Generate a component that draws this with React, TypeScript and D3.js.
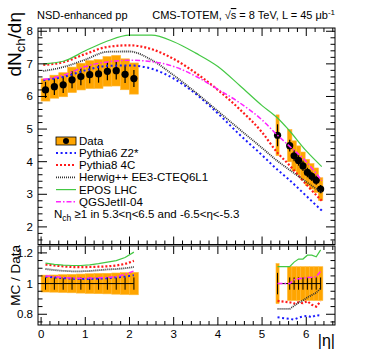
import React from 'react';
import * as d3 from 'd3';

// measured points (|eta| bins)
const etaLeft = [0.1, 0.3, 0.5, 0.7, 0.9, 1.1, 1.3, 1.5, 1.7, 1.9, 2.1];
const dataLeft = [6.2, 6.3, 6.36, 6.51, 6.61, 6.67, 6.69, 6.77, 6.79, 6.68, 6.55];
const sysLeft = [0.055, 0.056, 0.058, 0.06, 0.062, 0.064, 0.066, 0.067, 0.069, 0.071, 0.073];
const statLeft = [0.04, 0.04, 0.04, 0.04, 0.04, 0.04, 0.04, 0.04, 0.04, 0.04, 0.04];
const binLeft = [0.2, 0.2, 0.2, 0.2, 0.2, 0.2, 0.2, 0.2, 0.2, 0.2, 0.2];

const etaRight = [5.35, 5.625, 5.725, 5.825, 5.925, 6.025, 6.125, 6.225, 6.325];
const dataRight = [4.81, 4.49, 4.18, 4.04, 3.87, 3.67, 3.55, 3.43, 3.16];
const sysRight = [0.13, 0.11, 0.11, 0.11, 0.11, 0.11, 0.11, 0.11, 0.11];
const statRight = [0.07, 0.04, 0.04, 0.04, 0.04, 0.04, 0.04, 0.04, 0.04];
const binRight = [0.07, 0.1, 0.1, 0.1, 0.1, 0.1, 0.1, 0.1, 0.1];

// MC predictions, main panel
const mcEta = [0.05, 0.5, 1, 1.5, 2, 2.5, 3, 3.5, 4, 4.5, 5, 5.35, 5.6, 6, 6.35];
const mcPythia6 = [6.5, 6.6, 6.8, 6.94, 6.95, 6.85, 6.55, 6.08, 5.48, 4.82, 4.2, 3.75, 3.46, 2.95, 2.5];
const mcPythia8 = [6.97, 7.05, 7.3, 7.52, 7.57, 7.45, 7.15, 6.72, 6.2, 5.6, 4.9, 4.27, 3.92, 3.3, 2.8];
const mcHerwig = [6.78, 6.9, 7.13, 7.37, 7.38, 7.12, 6.65, 6.12, 5.55, 4.98, 4.42, 4.02, 3.77, 3.38, 3.05];
const mcEpos = [7.0, 7.08, 7.4, 7.7, 7.88, 7.88, 7.68, 7.33, 6.92, 6.33, 5.72, 5.34, 4.98, 4.33, 3.85];
const mcQgsjet = [6.52, 6.65, 6.92, 7.06, 7.11, 7.07, 6.92, 6.62, 6.22, 5.8, 5.28, 4.81, 4.5, 4.0, 3.42];

// MC / Data ratios at the measured points
const rPythia6Left = [1.045, 1.04, 1.035, 1.032, 1.03, 1.03, 1.032, 1.035, 1.04, 1.045, 1.055];
const rPythia8Left = [1.124, 1.118, 1.112, 1.108, 1.107, 1.108, 1.11, 1.112, 1.118, 1.128, 1.148];
const rHerwigLeft = [1.095, 1.088, 1.083, 1.08, 1.08, 1.082, 1.087, 1.092, 1.095, 1.1, 1.108];
const rEposLeft = [1.133, 1.125, 1.12, 1.118, 1.118, 1.122, 1.13, 1.14, 1.15, 1.17, 1.205];
const rQgsjetLeft = [1.05, 1.045, 1.04, 1.036, 1.035, 1.036, 1.038, 1.04, 1.045, 1.06, 1.082];

const rPythia6Right = [0.78, 0.77, 0.765, 0.778, 0.785, 0.79, 0.78, 0.795, 0.79];
const rPythia8Right = [0.887, 0.878, 0.87, 0.878, 0.872, 0.885, 0.862, 0.85, 0.885];
const rHerwigRight = [0.835, 0.835, 0.855, 0.875, 0.89, 0.91, 0.925, 0.94, 0.97];
const rEposRight = [1.11, 1.11, 1.14, 1.16, 1.16, 1.185, 1.185, 1.175, 1.22];
const rQgsjetRight = [1.0, 1.0, 1.025, 1.032, 1.036, 1.04, 1.042, 1.045, 1.08];

const models = [
  { name: 'Pythia6 Z2*', color: '#1a1aff', width: 2, dash: '2 2.6', main: mcPythia6, rl: rPythia6Left, rr: rPythia6Right },
  { name: 'Pythia8 4C', color: '#ff1a1a', width: 2.2, dash: '2 2', main: mcPythia8, rl: rPythia8Left, rr: rPythia8Right },
  { name: 'Herwig++ EE3-CTEQ6L1', color: '#333333', width: 1.8, dash: '1 1', main: mcHerwig, rl: rHerwigLeft, rr: rHerwigRight },
  { name: 'EPOS LHC', color: '#44c844', width: 1.2, dash: '', main: mcEpos, rl: rEposLeft, rr: rEposRight },
  { name: 'QGSJetII-04', color: '#ff22ff', width: 1.5, dash: '5 2 1.5 2', main: mcQgsjet, rl: rQgsjetLeft, rr: rQgsjetRight },
];

const font = '"Liberation Sans", Arial, Helvetica, sans-serif';
const ORANGE = '#ffa500';

const L = 38, R = 335;
const mainTop = 28, mainBot = 244.5;
const ratTop = 246, ratBot = 325;

export default function App() {
  const x = d3.scaleLinear().domain([-0.07, 6.65]).range([L, R]);
  const y = d3.scaleLinear().domain([1.46, 8.1]).range([mainBot, mainTop]);
  const yr = d3.scaleLinear().domain([0.73, 1.245]).range([ratBot, ratTop]);

  const curve = d3.line<[number, number]>().x(d => x(d[0])).y(d => y(d[1])).curve(d3.curveMonotoneX);
  const rline = d3.line<[number, number]>().x(d => x(d[0])).y(d => yr(d[1]));

  const xMinor = d3.range(0, 6.61, 0.2);
  const xMajor = d3.range(0, 7, 1);
  const yMinor = d3.range(1.6, 8.01, 0.2);
  const yMajor = d3.range(2, 9, 1);
  const rMinor = d3.range(0.75, 1.21, 0.05);
  const rMajor = [0.8, 1, 1.2];

  const isMajor = (v: number, step: number) => Math.abs(v / step - Math.round(v / step)) < 1e-6;

  const groups = [
    { eta: etaLeft, val: dataLeft, sys: sysLeft, stat: statLeft, bin: binLeft },
    { eta: etaRight, val: dataRight, sys: sysRight, stat: statRight, bin: binRight },
  ];

  const ticksFrame = (top: number, bot: number, ys: d3.ScaleLinear<number, number>, minor: number[], majStep: number, xlen: [number, number], ylen: [number, number]) => (
    <g stroke="#000" strokeWidth={1}>
      <rect x={L} y={top} width={R - L} height={bot - top} fill="none" />
      {xMinor.map((v, i) => {
        const len = isMajor(v, 1) ? xlen[0] : xlen[1];
        return (
          <g key={'x' + i}>
            <line x1={x(v)} x2={x(v)} y1={bot} y2={bot - len} />
            <line x1={x(v)} x2={x(v)} y1={top} y2={top + len} />
          </g>
        );
      })}
      {minor.map((v, i) => {
        const len = isMajor(v, majStep) ? ylen[0] : ylen[1];
        return (
          <g key={'y' + i}>
            <line x1={L} x2={L + len} y1={ys(v)} y2={ys(v)} />
            <line x1={R} x2={R - len} y1={ys(v)} y2={ys(v)} />
          </g>
        );
      })}
    </g>
  );

  const legendY = [141, 153, 165, 177.3, 189.6, 201.8];

  return (
    <svg width={374} height={351} style={{ position: 'absolute', left: 0, top: 0, background: '#fff' }} fontFamily={font}>
      <rect x={0} y={0} width={374} height={351} fill="#fff" />

      {/* main panel: systematic boxes */}
      {groups.map((g, gi) => g.eta.map((e, i) => (
        <rect key={`b${gi}-${i}`} x={x(e - g.bin[i] / 2)} width={x(e + g.bin[i] / 2) - x(e - g.bin[i] / 2)}
          y={y(g.val[i] * (1 + g.sys[i]))} height={y(g.val[i] * (1 - g.sys[i])) - y(g.val[i] * (1 + g.sys[i]))}
          fill={ORANGE} stroke="#ffb733" strokeWidth={0.6} />
      )))}
      {/* stat bars and markers */}
      {groups.map((g, gi) => g.eta.map((e, i) => (
        <g key={`p${gi}-${i}`}>
          <line x1={x(e)} x2={x(e)} y1={y(g.val[i] * (1 + g.stat[i]))} y2={y(g.val[i] * (1 - g.stat[i]))} stroke="#000" strokeWidth={1.2} />
          <circle cx={x(e)} cy={y(g.val[i])} r={3.6} fill="#000" />
        </g>
      )))}
      {/* MC curves */}
      {models.map(m => (
        <path key={m.name} d={curve(mcEta.map((e, i) => [e, m.main[i]]) as [number, number][]) || ''}
          fill="none" stroke={m.color} strokeWidth={m.width} strokeDasharray={m.dash || undefined} />
      ))}

      {ticksFrame(mainTop, mainBot, y, yMinor, 1, [8, 4], [9, 4.5])}
      {yMajor.map(v => (
        <text key={'yl' + v} x={33} y={y(v) + 4} fontSize={11.5} textAnchor="end">{v}</text>
      ))}

      {/* y title */}
      <text transform="translate(21,12) rotate(-90)" textAnchor="end" fontSize={19}>
        dN<tspan fontSize={13} dy={4}>ch</tspan><tspan dy={-4}>/dη</tspan>
      </text>

      {/* header */}
      <text x={37} y={19} fontSize={11}>NSD-enhanced pp</text>
      <text x={335} y={19} fontSize={11} textAnchor="end">
        CMS-TOTEM, √<tspan textDecoration="overline">s</tspan> = 8 TeV, L = 45 μb<tspan fontSize={8} dy={-4}>-1</tspan>
      </text>

      {/* legend */}
      <g fontSize={11.5}>
        <rect x={56} y={legendY[0] - 4} width={20} height={8} fill={ORANGE} stroke="#000" strokeWidth={0.8} />
        <circle cx={66} cy={legendY[0]} r={3} fill="#000" />
        <text x={79} y={legendY[0] + 4}>Data</text>
        {models.map((m, i) => (
          <g key={'lg' + i}>
            <line x1={56} x2={76} y1={legendY[i + 1]} y2={legendY[i + 1]} stroke={m.color} strokeWidth={m.width} strokeDasharray={m.dash || undefined} />
            <text x={79} y={legendY[i + 1] + 4}>{m.name}</text>
          </g>
        ))}
        <text x={54} y={218}>
          N<tspan fontSize={8.5} dy={3}>ch</tspan><tspan dy={-3}> ≥1 in 5.3&lt;η&lt;6.5 and -6.5&lt;η&lt;-5.3</tspan>
        </text>
      </g>

      {/* ratio panel */}
      {groups.map((g, gi) => g.eta.map((e, i) => (
        <rect key={`rb${gi}-${i}`} x={x(e - g.bin[i] / 2)} width={x(e + g.bin[i] / 2) - x(e - g.bin[i] / 2)}
          y={yr(1 + g.sys[i])} height={yr(1 - g.sys[i]) - yr(1 + g.sys[i])}
          fill={ORANGE} stroke="#ffb733" strokeWidth={0.6} />
      )))}
      {groups.map((g, gi) => (
        <g key={'rl' + gi} stroke="#000" strokeWidth={1}>
          <line x1={x(g.eta[0])} x2={x(g.eta[g.eta.length - 1])} y1={yr(1)} y2={yr(1)} />
          {g.eta.map((e, i) => (
            <line key={i} x1={x(e)} x2={x(e)} y1={yr(1 + g.stat[i])} y2={yr(1 - g.stat[i])} />
          ))}
        </g>
      ))}
      {models.map(m => (
        <g key={'r' + m.name}>
          <path d={rline(etaLeft.map((e, i) => [e, m.rl[i]]) as [number, number][]) || ''}
            fill="none" stroke={m.color} strokeWidth={m.width} strokeDasharray={m.dash || undefined} />
          <path d={rline(etaRight.map((e, i) => [e, m.rr[i]]) as [number, number][]) || ''}
            fill="none" stroke={m.color} strokeWidth={m.width} strokeDasharray={m.dash || undefined} />
        </g>
      ))}

      {ticksFrame(ratTop, ratBot, yr, rMinor, 0.2, [8, 4], [9, 4.5])}
      {rMajor.map(v => (
        <text key={'rl' + v} x={33} y={yr(v) + 4} fontSize={11.5} textAnchor="end">{v === 1 ? '1' : v.toString()}</text>
      ))}
      {xMajor.map(v => (
        <text key={'xl' + v} x={x(v)} y={338} fontSize={11.5} textAnchor="middle">{v}</text>
      ))}
      <text transform="translate(20,245) rotate(-90)" textAnchor="end" fontSize={13.5}>MC / Data</text>
      <text x={335} y={346} fontSize={16} textAnchor="end">|η|</text>
    </svg>
  );
}
